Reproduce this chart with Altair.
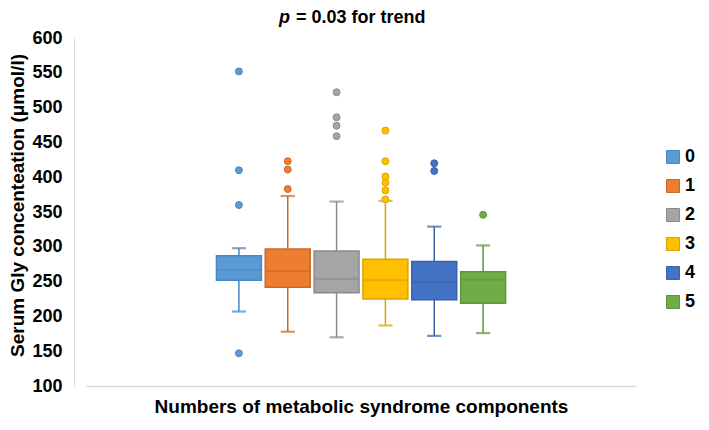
import altair as alt
import pandas as pd

FONT = "Liberation Sans"

groups = ["0", "1", "2", "3", "4", "5"]
whisk_lo = [207, 178, 170, 187, 172, 176]
q1 = [252, 242, 234, 225, 224, 219]
median = [267, 265, 254, 252, 249, 253]
q3 = [287, 297, 294, 282, 279, 264]
whisk_hi = [298, 373, 365, 366, 329, 302]

outlier_groups = ["0"] * 4 + ["1"] * 3 + ["2"] * 4 + ["3"] * 6 + ["4"] * 2 + ["5"]
outlier_values = [552, 410, 360, 147,
                  423, 411, 383,
                  522, 486, 474, 459,
                  467, 423, 401, 392, 381, 368,
                  420, 409,
                  346]

fill_colors = ["#5B9BD5", "#ED7D31", "#A5A5A5", "#FFC000", "#4472C4", "#70AD47"]
stroke_colors = ["#4A86BF", "#C8692A", "#8A8A8A", "#D9A300", "#3A62A8", "#5E943B"]
y_ticks = list(range(100, 601, 50))
title_parts = ["p", "= 0.03 for trend"]
x_title = "Numbers of metabolic syndrome components"
y_title = "Serum Gly concenteation (\u03bcmol/l)"

box_df = pd.DataFrame({"k": "", "grp": groups, "lo": whisk_lo, "q1": q1,
                       "med": median, "q3": q3, "hi": whisk_hi})
out_df = pd.DataFrame({"k": "", "grp": outlier_groups, "val": outlier_values})

x_enc = alt.X("k:N",
              scale=alt.Scale(paddingInner=0, paddingOuter=0.4385),
              axis=alt.Axis(title=x_title, labels=False, ticks=False,
                            domainColor="#D9D9D9", domainWidth=1.5,
                            titleFont=FONT, titleFontSize=19, titleFontWeight="bold",
                            titleColor="black", titlePadding=11))
xoff = alt.XOffset("grp:N", scale=alt.Scale(domain=groups, paddingInner=0.08, paddingOuter=0.04))

y_axis = alt.Axis(title=y_title, values=y_ticks, grid=False, ticks=False, offset=12,
                  domainColor="#D9D9D9", domainWidth=1,
                  labelFont=FONT, labelFontSize=18, labelFontWeight="bold", labelColor="black",
                  labelPadding=12,
                  titleFont=FONT, titleFontSize=19, titleFontWeight="bold", titleColor="black",
                  titlePadding=4, titleY=167)
y_scale = alt.Scale(domain=[100, 600], nice=False, zero=False)

legend = alt.Legend(title=None, orient="none", legendX=578, legendY=110,
                    symbolType="square", symbolSize=169, symbolStrokeWidth=1, symbolOpacity=1,
                    labelFont=FONT, labelFontSize=18, labelFontWeight="bold", labelColor="black",
                    labelOffset=3, rowPadding=11, padding=0)
fill_enc = alt.Fill("grp:N", scale=alt.Scale(domain=groups, range=fill_colors), legend=legend)
stroke_enc = alt.Stroke("grp:N", scale=alt.Scale(domain=groups, range=stroke_colors), legend=legend)

base = alt.Chart(box_df)

whisk = base.mark_rule(strokeWidth=1.5).encode(
    x=x_enc, xOffset=xoff,
    y=alt.Y("lo:Q", scale=y_scale, axis=y_axis), y2="hi:Q",
    stroke=stroke_enc)

cap_lo = base.mark_tick(filled=False, size=13, thickness=1, strokeWidth=1.2).encode(
    x=x_enc, xOffset=xoff, y=alt.Y("lo:Q", scale=y_scale, axis=y_axis), stroke=stroke_enc)
cap_hi = base.mark_tick(filled=False, size=13, thickness=1, strokeWidth=1.2).encode(
    x=x_enc, xOffset=xoff, y=alt.Y("hi:Q", scale=y_scale, axis=y_axis), stroke=stroke_enc)

box = base.mark_bar(strokeWidth=1.5).encode(
    x=x_enc, xOffset=xoff,
    y=alt.Y("q1:Q", scale=y_scale, axis=y_axis), y2="q3:Q",
    fill=fill_enc, stroke=stroke_enc)

med = base.mark_tick(filled=False, size=44, thickness=1, strokeWidth=1).encode(
    x=x_enc, xOffset=xoff, y=alt.Y("med:Q", scale=y_scale, axis=y_axis), stroke=stroke_enc)

outl = alt.Chart(out_df).mark_point(filled=True, size=48, strokeWidth=1, opacity=1).encode(
    x=x_enc, xOffset=xoff, y=alt.Y("val:Q", scale=y_scale, axis=y_axis),
    fill=fill_enc, stroke=stroke_enc)

tdf = pd.DataFrame({"t": title_parts})
title_p = alt.Chart(tdf).transform_filter(alt.datum.t == title_parts[0]).mark_text(
    font=FONT, fontSize=18, fontWeight="bold", fontStyle="italic", align="left",
    baseline="alphabetic", color="black").encode(
    x=alt.value(193), y=alt.value(-15), text="t:N")
title_rest = alt.Chart(tdf).transform_filter(alt.datum.t == title_parts[1]).mark_text(
    font=FONT, fontSize=18, fontWeight="bold", align="left",
    baseline="alphabetic", color="black").encode(
    x=alt.value(210), y=alt.value(-15), text="t:N")

chart = alt.layer(whisk, cap_lo, cap_hi, box, med, outl, title_p, title_rest).properties(
    width=550, height=348,
    padding={"left": 78, "top": 30, "right": 65, "bottom": 36},
    autosize=alt.AutoSizeParams(type="none"),
    background="white",
).configure_view(stroke=None)

chart.save("out.html", embed_options={"renderer": "svg", "actions": False})
